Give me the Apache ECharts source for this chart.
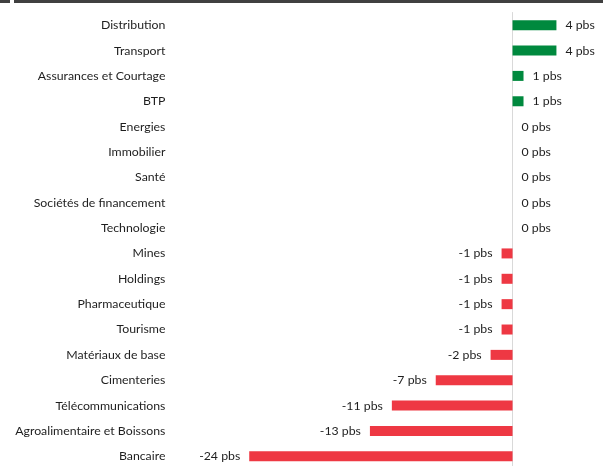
<!DOCTYPE html>
<html>
<head>
<meta charset="utf-8">
<script src="https://cdn.jsdelivr.net/npm/echarts@6/dist/echarts.min.js"></script>
<style>
  html, body { margin: 0; padding: 0; background: #fff; }
  #chart { width: 603px; height: 466px; }
</style>
</head>
<body>
<div id="chart"></div>
<script>
var sectors = ['Distribution', 'Transport', 'Assurances et Courtage', 'BTP', 'Energies',
  'Immobilier', 'Santé', 'Sociétés de financement', 'Technologie', 'Mines', 'Holdings',
  'Pharmaceutique', 'Tourisme', 'Matériaux de base', 'Cimenteries', 'Télécommunications',
  'Agroalimentaire et Boissons', 'Bancaire'];
var variation = [4, 4, 1, 1, 0, 0, 0, 0, 0, -1, -1, -1, -1, -2, -7, -11, -13, -24];
var unit = ' pbs';

var up = '#00893e';
var down = '#ee3843';
var txt = '#1e1e1e';
var font = 'Lato';

// one item per bar, label goes on the outer side of the bar
var items = variation.map(function (v) {
  return {
    value: v,
    itemStyle: { color: v < 0 ? down : up },
    label: { position: v < 0 ? 'left' : 'right' }
  };
});

echarts.init(document.getElementById('chart'))
.setOption({
  animation: false,
  backgroundColor: '#fff',
  textStyle: { fontFamily: font, color: txt },
  graphic: [
    { type: 'rect', shape: { x: 0, y: 0, width: 10, height: 3 }, style: { fill: '#404040' } },
    { type: 'rect', shape: { x: 14, y: 0, width: 589, height: 3 }, style: { fill: '#404040' } }
  ],
  grid: {
    left: 183.4,
    right: 35.6,
    top: 12.5,
    bottom: -3,
    containLabel: false,
    outerBoundsMode: 'none'
  },
  xAxis: {
    type: 'value',
    min: -30,
    max: 5,
    show: false
  },
  yAxis: [
    {
      // names, kept at the left edge
      type: 'category',
      inverse: true,
      data: sectors,
      position: 'left',
      axisLine: { show: false, onZero: false },
      axisTick: { show: false },
      axisLabel: {
        margin: 18,
        fontSize: 12.3,
        color: txt,
        fontFamily: font
      },
      splitLine: { show: false }
    },
    {
      // line and ticks at zero
      type: 'category',
      inverse: true,
      data: sectors,
      position: 'left',
      axisLine: { onZero: true, lineStyle: { color: '#d9d9d9', width: 1 } },
      axisTick: { length: 5, lineStyle: { color: '#d9d9d9' } },
      axisLabel: { show: false },
      splitLine: { show: false }
    }
  ],
  series: [
    {
      type: 'bar',
      yAxisIndex: 0,
      barWidth: 10,
      data: items,
      label: {
        show: true,
        distance: 9,
        fontSize: 12.3,
        color: txt,
        fontFamily: font,
        formatter: function (p) { return p.value + unit; }
      }
    }
  ]
});
</script>
</body>
</html>
